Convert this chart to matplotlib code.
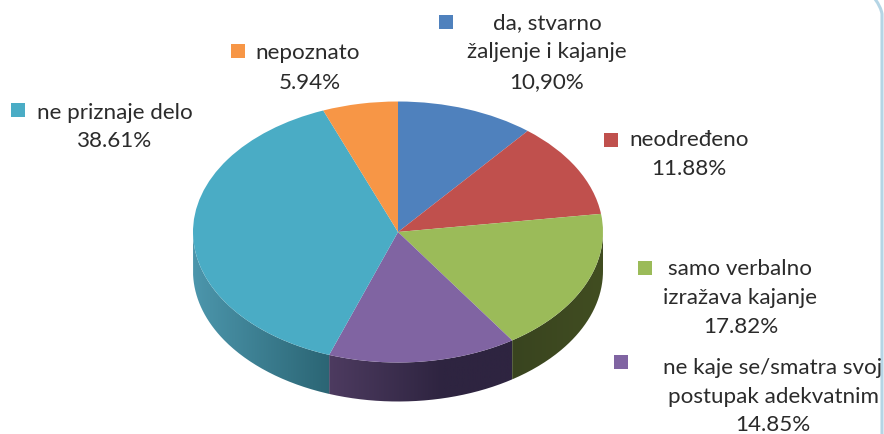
import numpy as np
import matplotlib
matplotlib.use("Agg")
from matplotlib import pyplot as plt
from matplotlib.patches import PathPatch, Rectangle
from matplotlib.path import Path
from matplotlib.colors import LinearSegmentedColormap

plt.rcParams['font.family'] = ['Lato', 'DejaVu Sans']

# Data
values = [10.90, 11.88, 17.82, 14.85, 38.61, 5.94]
labels = [
    ["da, stvarno", "žaljenje i kajanje", "10,90%"],
    ["neodređeno", "11.88%"],
    ["samo verbalno", "izražava kajanje", "17.82%"],
    ["ne kaje se/smatra svoj", "postupak adekvatnim", "14.85%"],
    ["ne priznaje delo", "38.61%"],
    ["nepoznato", "5.94%"],
]
colors = ['#4f81bd', '#c0504d', '#9bbb59', '#8064a2', '#4aacc5', '#f79646']

# Layout in reference pixels
W, H = 884, 434
cx, cy, rx, ry, depth = 398, 232, 205, 130.5, 39
side_colors = {2: ('#39441f', '#414d21'), 3: ('#4d3b60', '#2e2440'), 4: ('#4c96ac', '#2b6574')}
square_xy = [(439, 15), (604, 133), (638, 261), (614, 355), (11, 103), (231, 44)]
line_xy = [
    [(547, 23), (547, 52), (547, 82)],
    [(689, 140), (689, 169)],
    [(740, 269), (740, 298), (741, 327)],
    [(773, 368), (773, 397), (773, 425)],
    [(115, 113), (115, 141)],
    [(308, 53), (310, 83)],
]

fig = plt.figure(figsize=(W / 100, H / 100), dpi=100)
base = fig.add_axes([0, 0, 1, 1], zorder=1)
base.set_xlim(0, W)
base.set_ylim(H, 0)
base.axis('off')

# Side wall of the pie, only the part that faces front
edges = np.cumsum([0] + values) / 100 * 360
for i, (left, right) in side_colors.items():
    a = max(edges[i], 90)
    b = min(edges[i + 1], 270)
    t = np.radians(np.linspace(a, b, 120))
    xs = cx + rx * np.sin(t)
    ys = cy - ry * np.cos(t)
    verts = list(zip(xs, ys)) + list(zip(xs[::-1], ys[::-1] + depth)) + [(xs[0], ys[0])]
    clip = PathPatch(Path(verts), fc='none', ec='none', transform=base.transData)
    base.add_patch(clip)
    cmap = LinearSegmentedColormap.from_list('side', [left, right])
    x0, x1 = xs.min(), xs.max()
    # the purple wall darkens over its left part and then stays flat
    ramp = np.linspace(0, 1, 256)
    if i == 3:
        ramp = np.clip(ramp * 1.6, 0, 1)
    im = base.imshow(ramp[None, :], cmap=cmap, vmin=0, vmax=1, aspect='auto',
                     extent=[x0, x1, cy + ry + depth + 2, cy - ry])
    im.set_clip_path(clip)
base.set_xlim(0, W)
base.set_ylim(H, 0)

# Top face of the pie
ax = fig.add_axes([(cx - rx) / W, (H - cy - ry) / H, 2 * rx / W, 2 * ry / H], zorder=2)
ax.pie(values, colors=colors, startangle=90, counterclock=False, radius=1,
       wedgeprops={'linewidth': 0})
ax.set_aspect('auto')
ax.set_xlim(-1, 1)
ax.set_ylim(-1, 1)

# Labels with their little squares
for i, lines in enumerate(labels):
    sx, sy = square_xy[i]
    base.add_patch(Rectangle((sx, sy), 14, 14, fc=colors[i], ec='none'))
    for line, (x, y) in zip(lines, line_xy[i]):
        base.text(x, y, line, ha='center', va='center', fontsize=16.1, color='#2b2b2b')

# Rounded frame at the right edge
frame = Path([(875, -1), (881, 7), (882, 14), (882, 24), (882, H + 1)],
             [Path.MOVETO, Path.CURVE3, Path.CURVE3, Path.LINETO, Path.LINETO])
base.add_patch(PathPatch(frame, fc='none', ec='#b5d5e5', lw=2.2))

fig.savefig("out.png", dpi=100)
